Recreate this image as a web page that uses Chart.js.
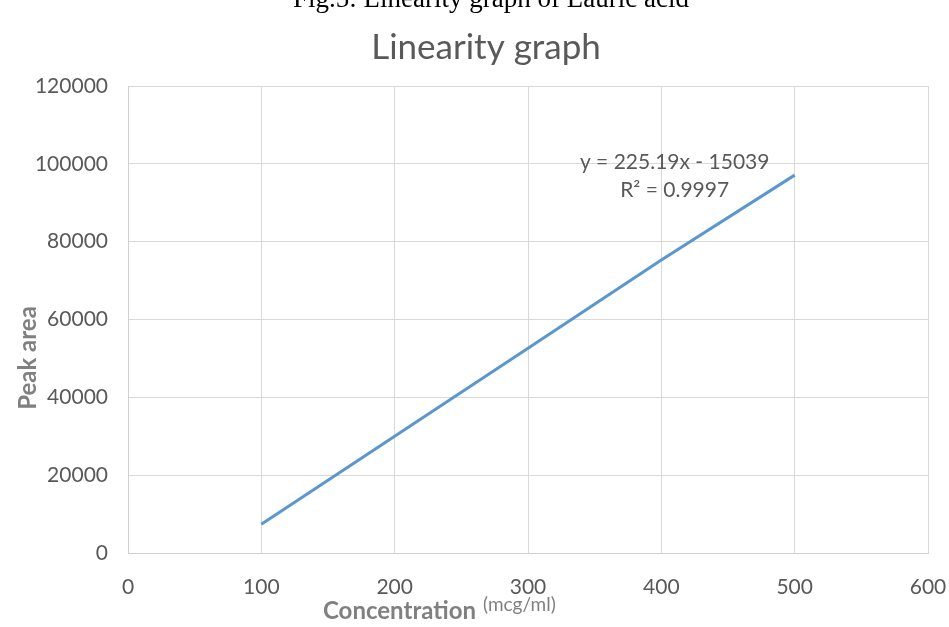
<!DOCTYPE html>
<html>
<head>
<meta charset="utf-8">
<script src="https://cdn.jsdelivr.net/npm/chart.js@4.4.0/dist/chart.umd.min.js"></script>
<style>
    body { margin: 0; background: #fff; }
    #wrap { position: relative; width: 949px; height: 627px; overflow: hidden; }
    #caption {
        position: absolute; left: 0; width: 982px; top: -15px;
        text-align: center; font: 27px/27px "Liberation Serif", "Times New Roman", serif; color: #000;
        white-space: nowrap;
    }
    canvas { position: absolute; left: 0; top: 0; }
</style>
</head>
<body>
<div id="wrap">
    <canvas id="chart" width="949" height="627"></canvas>
    <div id="caption">Fig.5: Linearity graph of Lauric acid</div>
</div>
<script>
const concentration = [100, 200, 300, 400, 500]
const peakArea = [7400, 30000, 52600, 75300, 97100]
const xTicks = [0, 100, 200, 300, 400, 500, 600]
const yTicks = [0, 20000, 40000, 60000, 80000, 100000, 120000]
const chartTitle = "Linearity graph"
const xTitle = "Concentration"
const xUnit = "(mcg/ml)"
const yTitle = "Peak area"
const equation = "y = 225.19x - 15039"
const rSquared = "R² = 0.9997"

const FONT = "Lato, 'Open Sans', sans-serif"

// titles and trendline label, drawn where the Excel original put them
const extraText = {
    id: "extraText",
    afterDraw(chart) {
        const { ctx, scales } = chart
        ctx.save()
        ctx.textAlign = "center"
        ctx.textBaseline = "middle"

        ctx.fillStyle = "#595959"
        ctx.font = "35px " + FONT
        ctx.fillText(chartTitle, 486, 48)

        ctx.fillStyle = "#808080"
        ctx.font = "bold 24px " + FONT
        ctx.save()
        ctx.translate(28, 358)
        ctx.rotate(-Math.PI / 2)
        ctx.fillText(yTitle, 0, 0)
        ctx.restore()

        ctx.textAlign = "left"
        ctx.fillText(xTitle, 323, 611)
        ctx.font = "19px " + FONT
        ctx.fillText(xUnit, 483, 605)

        ctx.textAlign = "center"
        ctx.fillStyle = "#595959"
        ctx.font = "21px " + FONT
        const ex = scales.x.getPixelForValue(410)
        const ey = scales.y.getPixelForValue(100500)
        ctx.fillText(equation, ex, ey)
        ctx.fillText(rSquared, ex, ey + 28)
        ctx.restore()
    },
}

new Chart(document.getElementById("chart"), {
    type: "scatter",
    data: {
        datasets: [
            {
                label: "Peak area",
                data: concentration.map((c, i) => ({ x: c, y: peakArea[i] })),
                showLine: true,
                borderColor: "#5b97cf",
                borderWidth: 3,
                pointRadius: 0,
                tension: 0,
            },
        ],
    },
    options: {
        responsive: false,
        animation: false,
        layout: { padding: { top: 86, right: 21, bottom: 0, left: 0 } },
        plugins: {
            legend: { display: false },
            title: { display: false },
            tooltip: { enabled: false },
        },
        scales: {
            x: {
                type: "linear",
                min: 0,
                max: 600,
                afterBuildTicks: (axis) => {
                    axis.ticks = xTicks.map((v) => ({ value: v }))
                },
                afterFit: (axis) => {
                    axis.height = 74
                    axis.paddingLeft = 0
                    axis.paddingRight = 0
                },
                grid: { color: "#d9d9d9", lineWidth: 1, drawTicks: false },
                border: { color: "#d0d0d0" },
                ticks: {
                    color: "#595959",
                    font: { family: FONT, size: 21 },
                    padding: 22,
                    callback: (v) => String(v),
                },
            },
            y: {
                min: 0,
                max: 120000,
                afterBuildTicks: (axis) => {
                    axis.ticks = yTicks.map((v) => ({ value: v }))
                },
                afterFit: (axis) => {
                    axis.width = 128
                    axis.paddingTop = 0
                    axis.paddingBottom = 0
                },
                grid: { color: "#d9d9d9", lineWidth: 1, drawTicks: false },
                border: { color: "#d0d0d0" },
                ticks: {
                    color: "#595959",
                    font: { family: FONT, size: 21 },
                    padding: 20,
                    callback: (v) => String(v),
                },
            },
        },
    },
    plugins: [extraText],
})
</script>
</body>
</html>
